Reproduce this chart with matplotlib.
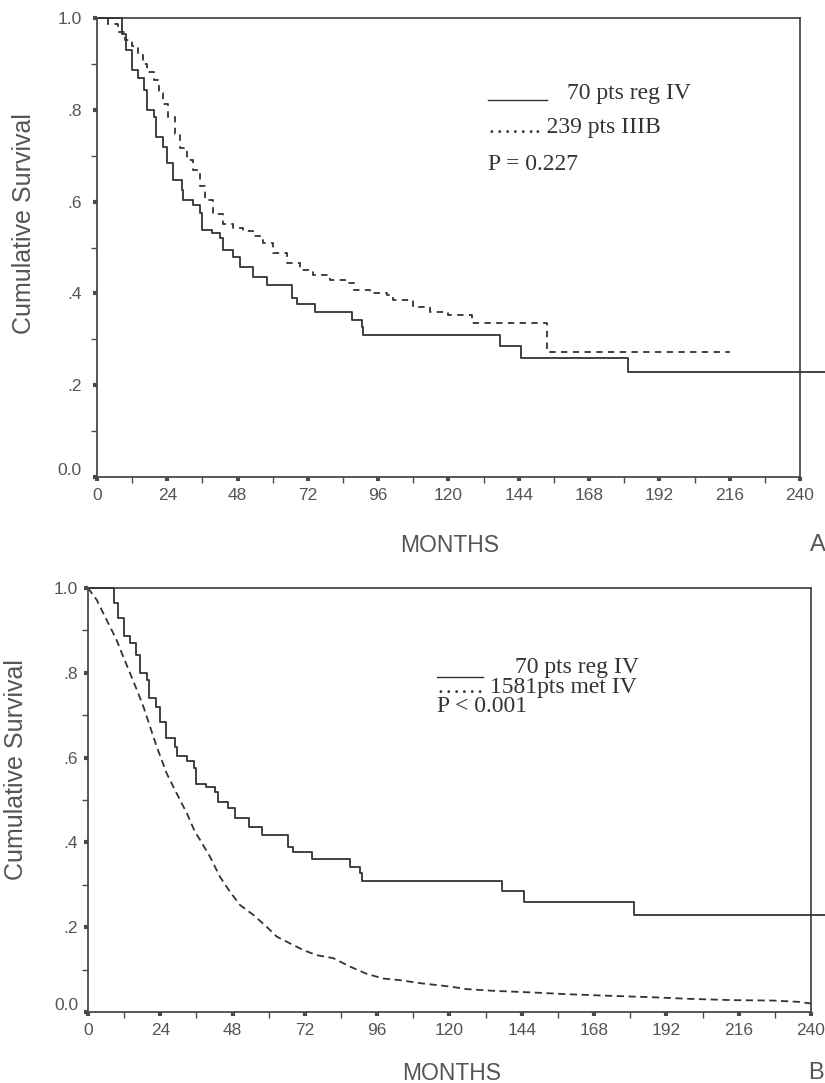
import matplotlib
matplotlib.use("Agg")
import matplotlib.pyplot as plt
from matplotlib.lines import Line2D
from matplotlib.transforms import ScaledTranslation

# ---------------- data ----------------
# 70 pts regional stage IV (same cohort in both panels), Kaplan-Meier steps
reg_iv_t = [0, 8.5, 9.9, 11.8, 14.1, 16.0, 17.2, 19.5, 20.1, 22.6, 23.8, 26.0, 28.9, 29.5,
            32.9, 35.2, 35.7, 39.1, 42.0, 43.1, 46.5, 48.8, 53.4, 57.9, 66.5, 68.2, 74.4,
            87.0, 90.3, 90.9, 137.5, 144.6, 181.2, 250.0]
reg_iv_s = [1.0, 0.965, 0.93, 0.887, 0.87, 0.843, 0.80, 0.784, 0.74, 0.72, 0.684, 0.647, 0.625,
            0.603, 0.593, 0.575, 0.538, 0.531, 0.52, 0.495, 0.48, 0.457, 0.436, 0.418, 0.39,
            0.377, 0.36, 0.342, 0.327, 0.309, 0.286, 0.259, 0.229, 0.229]

# 239 pts stage IIIB
iiib_t = [0, 3.8, 7.2, 9.5, 11.8, 14.1, 15.8, 17.0, 19.3, 21.0, 22.7, 24.4, 26.6, 28.3, 30.6,
          32.9, 35.2, 36.9, 39.7, 43.1, 46.5, 49.9, 53.4, 56.8, 60.2, 64.8, 69.4, 73.9, 79.6,
          85.3, 87.6, 93.3, 99.0, 101.2, 108.0, 113.7, 120.0, 127.9, 153.5, 216.1]
iiib_s = [1.0, 0.988, 0.97, 0.953, 0.938, 0.92, 0.90, 0.883, 0.865, 0.836, 0.813, 0.785, 0.748,
          0.716, 0.69, 0.668, 0.633, 0.603, 0.574, 0.552, 0.542, 0.535, 0.524, 0.509, 0.487,
          0.466, 0.451, 0.44, 0.429, 0.422, 0.407, 0.40, 0.396, 0.385, 0.371, 0.36, 0.353,
          0.335, 0.273, 0.273]

# 1581 pts metastatic stage IV
met_iv_t = [0, 2.9, 5.1, 7.3, 9.5, 11.7, 13.9, 16.2, 18.4, 20.6, 22.8, 26.1, 29.4, 32.8, 35.5,
            37.2, 40.5, 43.8, 47.1, 50.5, 54.9, 59.3, 62.6, 67.0, 71.5, 75.9, 81.4, 87.0, 92.5,
            98.0, 103.6, 110.2, 120.2, 125.7, 134.5, 147.8, 158.9, 170.0, 186.6, 199.8, 214.0,
            227.4, 235.7, 240.0]
met_iv_s = [1.0, 0.972, 0.94, 0.909, 0.877, 0.838, 0.80, 0.76, 0.72, 0.673, 0.626, 0.563, 0.516,
            0.469, 0.425, 0.406, 0.366, 0.319, 0.284, 0.252, 0.229, 0.201, 0.178, 0.162, 0.146,
            0.134, 0.127, 0.107, 0.09, 0.079, 0.075, 0.068, 0.06, 0.054, 0.05, 0.046, 0.042,
            0.039, 0.035, 0.031, 0.028, 0.027, 0.024, 0.02]

x_ticks = list(range(0, 241, 24))
x_minor = list(range(12, 240, 24))
y_ticks = [0.0, 0.2, 0.4, 0.6, 0.8, 1.0]
y_tick_labels = ["0.0", ".2", ".4", ".6", ".8", "1.0"]
y_minor = [0.1, 0.3, 0.5, 0.7, 0.9]

# ---------------- figure ----------------
W, H = 825, 1083
fig = plt.figure(figsize=(W / 100, H / 100), dpi=100)
SANS = "Liberation Sans"
SERIF = "Liberation Serif"
LINE = "#333333"
AXC = "#4a4a4a"
TXT = "#555555"


def fx(px):
    return px / W


def fy(py):
    return 1 - py / H


def make_ax(x0, x240, ytop, ybot, ypad):
    ax = fig.add_axes([fx(x0), fy(ybot), (W - x0) / W, (ybot - ytop) / H])
    ax.set_xlim(0, 240 * (W - x0) / (x240 - x0))
    ax.set_ylim(0, 1)
    ax.patch.set_alpha(0)
    for s in ("top", "right"):
        ax.spines[s].set_visible(False)
    for s in ("left", "bottom"):
        ax.spines[s].set_color(AXC)
        ax.spines[s].set_linewidth(1.3)
    ax.spines["bottom"].set_bounds(0, 240)
    ax.plot([0, 240], [1, 1], color=AXC, lw=1.3, clip_on=False)
    ax.plot([240, 240], [0, 1], color=AXC, lw=1.3, clip_on=False)
    ax.set_xticks(x_ticks)
    ax.set_xticks(x_minor, minor=True)
    ax.set_yticks(y_ticks)
    ax.set_yticklabels(y_tick_labels)
    ax.set_yticks(y_minor, minor=True)
    ax.tick_params(which="major", direction="out", length=3, width=3, color=AXC,
                   labelsize=12.5, labelcolor=TXT)
    ax.tick_params(which="minor", direction="out", length=4, width=1, color=AXC)
    ax.tick_params(axis="x", which="major", pad=5)
    ax.tick_params(axis="y", which="major", pad=ypad)
    for lab in ax.get_xticklabels() + ax.get_yticklabels():
        lab.set_fontfamily(SANS)
    # the "0.0" label sits a little above the axis line in the reference
    lab0 = ax.get_yticklabels()[0]
    lab0.set_transform(lab0.get_transform() + ScaledTranslation(0, 8 / 100, fig.dpi_scale_trans))
    return ax


# ---- panel A ----
axA = make_ax(97, 800, 18, 477, 8)
axA.plot(reg_iv_t, reg_iv_s, drawstyle="steps-post", color=LINE, lw=1.3, clip_on=False)
axA.plot(iiib_t, iiib_s, drawstyle="steps-post", color=LINE, lw=1.3, clip_on=False,
         dashes=(3.5, 3.0))

# ---- panel B ----
axB = make_ax(88, 811, 588, 1012, 4)
axB.plot(reg_iv_t, reg_iv_s, drawstyle="steps-post", color=LINE, lw=1.3, clip_on=False)
axB.plot(met_iv_t, met_iv_s, color=LINE, lw=1.3, clip_on=False, dashes=(4.0, 2.5))

# axis labels
fig.text(fx(24), fy(224), "Cumulative Survival", rotation=90, ha="center", va="center",
         fontsize=18, family=SANS, color=TXT)
fig.text(fx(16), fy(770), "Cumulative Survival", rotation=90, ha="center", va="center",
         fontsize=18, family=SANS, color=TXT)
fig.text(fx(450), fy(545), "MONTHS", ha="center", va="center", fontsize=16.5, family=SANS, color=TXT)
fig.text(fx(452), fy(1073), "MONTHS", ha="center", va="center", fontsize=16.5, family=SANS, color=TXT)
fig.text(fx(810), fy(545), "A", ha="left", va="center", fontsize=17, family=SANS, color=TXT)
fig.text(fx(808), fy(1073), "B", ha="left", va="center", fontsize=17, family=SANS, color=TXT)

# legend text A
fig.add_artist(Line2D([fx(488), fx(547)], [fy(100), fy(100)], color=LINE, lw=1.0))
fig.text(fx(567), fy(99), "70 pts reg IV", ha="left", va="baseline", fontsize=17, family=SERIF, color=LINE)
fig.text(fx(488), fy(133), "\u2026\u2026. 239 pts IIIB", ha="left", va="baseline", fontsize=17,
         family=SERIF, color=LINE)
fig.text(fx(488), fy(170), "P = 0.227", ha="left", va="baseline", fontsize=17, family=SERIF, color=LINE)

# legend text B
fig.add_artist(Line2D([fx(437), fx(483)], [fy(677), fy(677)], color=LINE, lw=1.0))
fig.text(fx(515), fy(673), "70 pts reg IV", ha="left", va="baseline", fontsize=17, family=SERIF, color=LINE)
fig.text(fx(437), fy(693), "\u2026\u2026 1581pts met IV", ha="left", va="baseline", fontsize=17,
         family=SERIF, color=LINE)
fig.text(fx(437), fy(712), "P < 0.001", ha="left", va="baseline", fontsize=17, family=SERIF, color=LINE)

fig.savefig("out.png", dpi=100)
